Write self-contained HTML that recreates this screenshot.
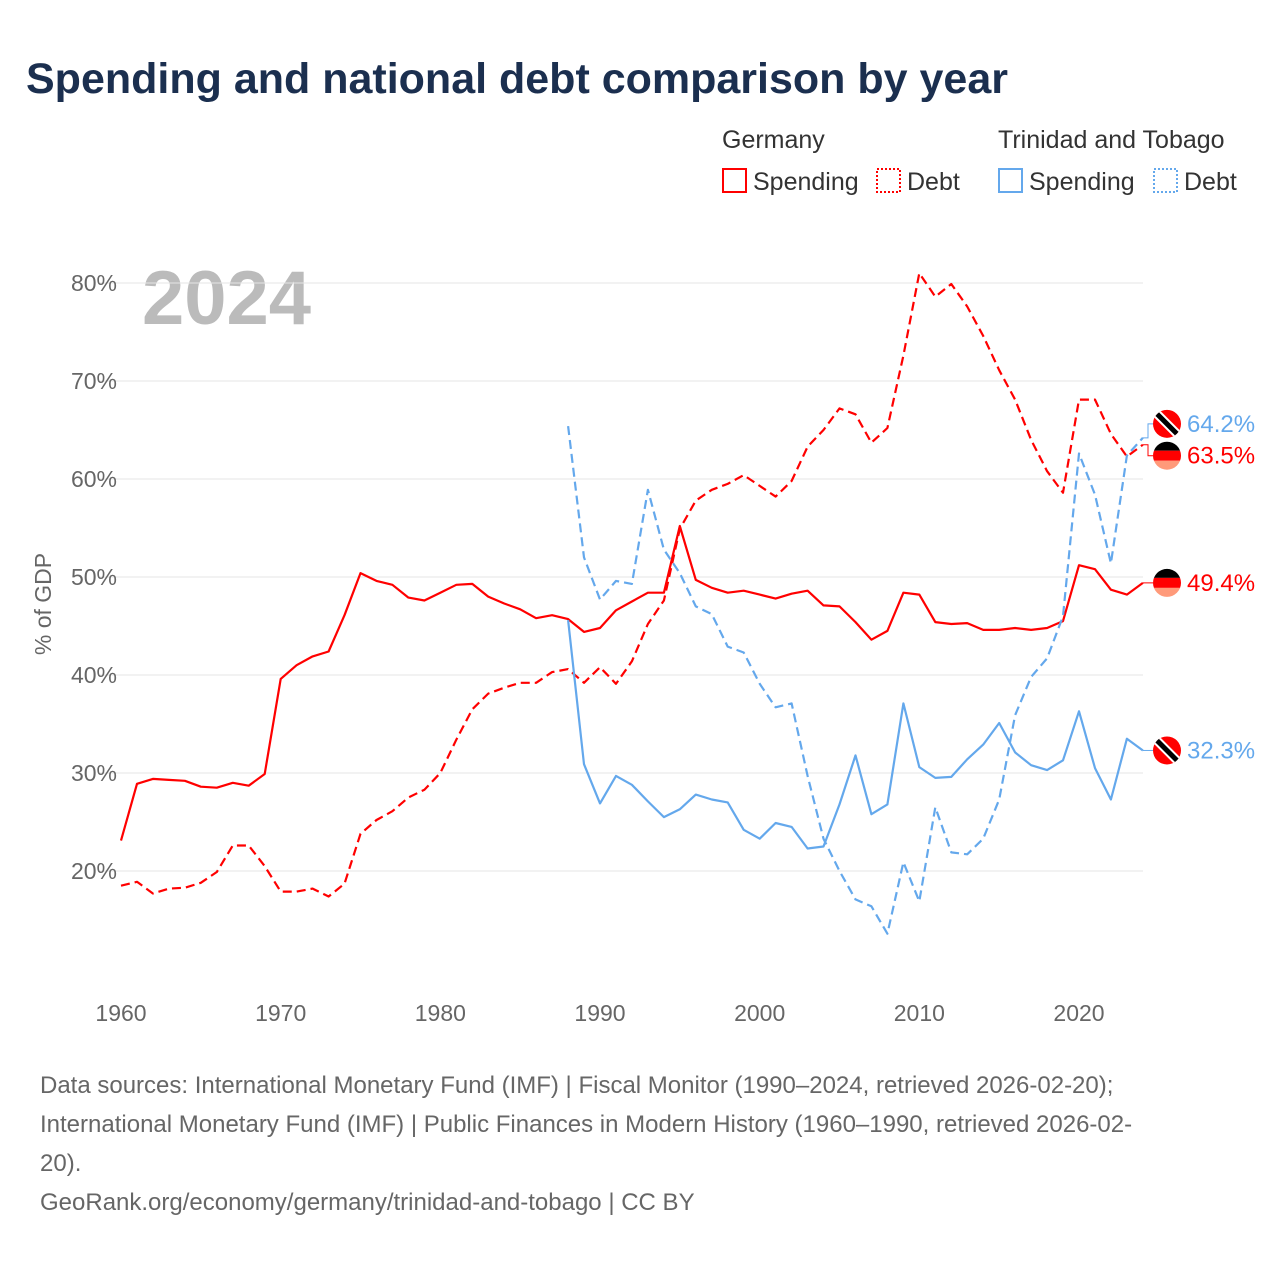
<!DOCTYPE html>
<html><head><meta charset="utf-8"><style>
body{margin:0;background:#fff;font-family:"Liberation Sans",sans-serif;}
#wrap{position:relative;width:1280px;height:1280px;overflow:hidden;}
</style></head><body>
<div id="wrap">
<svg id="svg" width="1280" height="1280" style="position:absolute;left:0;top:0">
<text x="26" y="93" font-size="43" font-weight="bold" fill="#1b2f4f">Spending and national debt comparison by year</text>
<g font-size="25" fill="#333">
<text x="722" y="148">Germany</text>
<rect x="723" y="169" width="23" height="23" fill="none" stroke="#f00" stroke-width="2"/>
<text x="753" y="190">Spending</text>
<rect x="877" y="169" width="23" height="23" fill="none" stroke="#f00" stroke-width="2" stroke-dasharray="2,2"/>
<text x="907" y="190">Debt</text>
<text x="998" y="148">Trinidad and Tobago</text>
<rect x="999" y="169" width="23" height="23" fill="none" stroke="#64a8ec" stroke-width="2"/>
<text x="1029" y="190">Spending</text>
<rect x="1154" y="169" width="23" height="23" fill="none" stroke="#64a8ec" stroke-width="2" stroke-dasharray="2,2"/>
<text x="1184" y="190">Debt</text>
</g>
<text x="142" y="324" font-size="76" font-weight="bold" fill="#bbb">2024</text>
<text transform="translate(51,604) rotate(-90)" text-anchor="middle" font-size="23" fill="#666">% of GDP</text>
<g id="grid"></g><g id="lines"></g><g id="ends"></g>
<g font-size="24" fill="#666">
<text x="40" y="1093">Data sources: International Monetary Fund (IMF) | Fiscal Monitor (1990–2024, retrieved 2026-02-20);</text>
<text x="40" y="1132">International Monetary Fund (IMF) | Public Finances in Modern History (1960–1990, retrieved 2026-02-</text>
<text x="40" y="1171">20).</text>
<text x="40" y="1210">GeoRank.org/economy/germany/trinidad-and-tobago | CC BY</text>
</g>
</svg>
</div>
<script>
const yTicks=[20,30,40,50,60,70,80];
const xTicks=[1960,1970,1980,1990,2000,2010,2020];
const deStart=1960, ttStart=1988;
const deSpending=[23.1,28.9,29.4,29.3,29.2,28.6,28.5,29.0,28.7,29.9,39.6,41.0,41.9,42.4,46.1,50.4,49.6,49.2,47.9,47.6,48.4,49.2,49.3,48.0,47.3,46.7,45.8,46.1,45.7,44.4,44.8,46.6,47.5,48.4,48.4,55.2,49.7,48.9,48.4,48.6,48.2,47.8,48.3,48.6,47.1,47.0,45.4,43.6,44.5,48.4,48.2,45.4,45.2,45.3,44.6,44.6,44.8,44.6,44.8,45.5,51.2,50.8,48.7,48.2,49.4];
const deDebt=[18.5,18.9,17.7,18.2,18.3,18.8,19.9,22.6,22.6,20.5,17.9,17.9,18.2,17.4,18.7,23.8,25.2,26.1,27.5,28.3,30.0,33.4,36.5,38.1,38.7,39.2,39.2,40.3,40.6,39.2,40.8,39.1,41.4,45.2,47.6,54.9,57.8,58.9,59.5,60.4,59.3,58.2,59.8,63.3,65.0,67.2,66.6,63.7,65.2,72.6,81.0,78.6,79.9,77.6,74.6,71.1,68.1,64.0,60.8,58.6,68.1,68.1,64.6,62.3,63.5];
const ttSpending=[45.6,30.9,26.9,29.7,28.8,27.1,25.5,26.3,27.8,27.3,27.0,24.2,23.3,24.9,24.5,22.3,22.5,26.8,31.8,25.8,26.8,37.1,30.6,29.5,29.6,31.4,32.9,35.1,32.1,30.8,30.3,31.3,36.3,30.5,27.3,33.5,32.3];
const ttDebt=[65.4,52.0,47.7,49.6,49.3,58.9,52.8,50.4,47.0,46.2,42.9,42.3,39.1,36.7,37.1,29.7,23.3,20.0,17.1,16.4,13.6,20.9,16.9,26.5,21.9,21.7,23.3,27.3,35.9,39.8,41.7,46.0,62.6,58.4,51.4,62.4,64.2];
const X=y=>121+(y-1960)*(958/60);
const Y=v=>871-(v-20)*(588/60);
const NS="http://www.w3.org/2000/svg";
function mk(t,a,p){const e=document.createElementNS(NS,t);for(const k in a)e.setAttribute(k,a[k]);p.appendChild(e);return e;}
const grid=document.getElementById('grid');
yTicks.forEach(v=>{
 const l=mk('line',{x1:100,x2:1143,y1:Y(v),y2:Y(v),stroke:'#e6e6e6','stroke-width':1},grid);
 
 
 const t=mk('text',{x:117,y:Y(v)+8,'text-anchor':'end','font-size':23,fill:'#666'},grid);
 t.textContent=v+'%';
 
 
});
xTicks.forEach(v=>{
 const t=mk('text',{x:X(v),y:1021,'text-anchor':'middle','font-size':23,fill:'#666'},grid);
 t.textContent=v;
 
 
});
const lines=document.getElementById('lines');
function series(arr,start,color,dash,name){
 const pts=arr.map((v,i)=>X(start+i).toFixed(1)+','+Y(v).toFixed(1)).join(' ');
 const p=mk('polyline',{points:pts,fill:'none',stroke:color,'stroke-width':2.2,'stroke-linejoin':'round'},lines);
 if(dash)p.setAttribute('stroke-dasharray','9,5');
 
 
}
series(deSpending,deStart,'#f00',false,'line-germany-spending');
series(deDebt,deStart,'#f00',true,'line-germany-debt');
series(ttSpending,ttStart,'#64a8ec',false,'line-tt-spending');
series(ttDebt,ttStart,'#64a8ec',true,'line-tt-debt');
const ends=document.getElementById('ends');
function flag(cy,type,val,color,name,lineY){
 const g=mk('g',{},ends);
 
 
 const cx=1167;
 mk('path',{d:`M1143,${lineY} H1148 V${cy} H1153`,fill:'none',stroke:color,'stroke-width':1},g);
 const id='c'+Math.round(cy);
 const cp=mk('clipPath',{id:id},g);mk('circle',{cx:cx,cy:cy,r:14},cp);
 const f=mk('g',{'clip-path':`url(#${id})`},g);
 if(type==='de'){
  mk('rect',{x:cx-15,y:cy-15,width:30,height:10,fill:'#000'},f);
  mk('rect',{x:cx-15,y:cy-5,width:30,height:10,fill:'#f00'},f);
  mk('rect',{x:cx-15,y:cy+5,width:30,height:10,fill:'#ff9a7a'},f);
 }else{
  mk('rect',{x:cx-15,y:cy-15,width:30,height:30,fill:'#f00'},f);
  mk('line',{x1:cx-12,y1:cy-12,x2:cx+12,y2:cy+12,stroke:'#fff','stroke-width':9},f);
  mk('line',{x1:cx-12,y1:cy-12,x2:cx+12,y2:cy+12,stroke:'#000','stroke-width':5},f);
 }
 const t=mk('text',{x:1187,y:cy+8,'font-size':24,fill:color},g);
 t.textContent=val.toFixed(1)+'%';
}
flag(Y(ttDebt[ttDebt.length-1])-14,'tt',ttDebt[ttDebt.length-1],'#64a8ec','end-label-tt-debt',Y(ttDebt[ttDebt.length-1]));
flag(Y(deDebt[deDebt.length-1])+11,'de',deDebt[deDebt.length-1],'#f00','end-label-de-debt',Y(deDebt[deDebt.length-1]));
flag(Y(deSpending[deSpending.length-1]),'de',deSpending[deSpending.length-1],'#f00','end-label-de-spending',Y(deSpending[deSpending.length-1]));
flag(Y(ttSpending[ttSpending.length-1]),'tt',ttSpending[ttSpending.length-1],'#64a8ec','end-label-tt-spending',Y(ttSpending[ttSpending.length-1]));
</script>
</body></html>
